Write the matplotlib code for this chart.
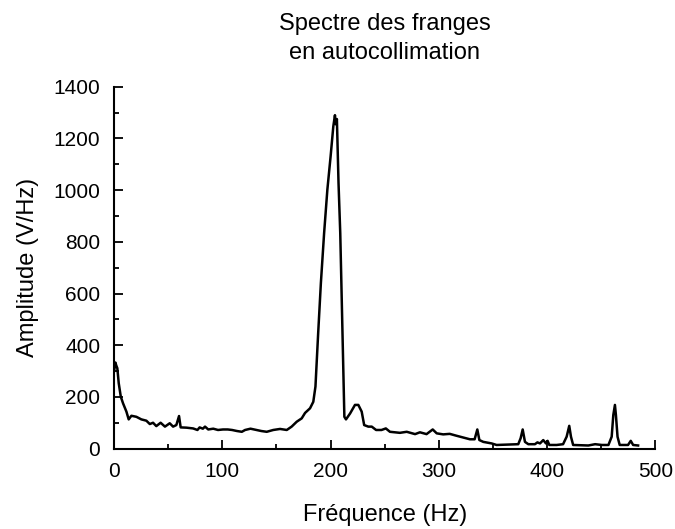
import matplotlib
matplotlib.use("Agg")
import matplotlib.pyplot as plt
from matplotlib.ticker import MultipleLocator

plt.rcParams['font.family'] = ['Liberation Sans', 'DejaVu Sans']

# spectrum (Hz, V/Hz)
freq = [0, 0.6, 1.2, 2, 3, 4.3, 6.2, 8.3, 11.4, 13.5, 16, 20.6, 25.2, 29.8, 33, 36,
        39, 43, 47, 51.4, 54.5, 57.5, 60, 61.5, 66.8, 73, 77, 79, 82, 84, 87, 91.6,
        96, 100.6, 105, 109, 113.5, 118, 121, 126, 131.8, 136, 141, 147, 153.3,
        159.5, 164, 168.7, 173.3, 176.4, 181, 184, 186, 188.5, 191, 194,
        197, 200, 202.5, 204, 204.8, 205.8, 207.3, 208.9, 210.3, 211.7,
        212.7, 214.2, 218, 222.5, 225.6, 228.7, 231, 234.8, 238, 242, 247, 251,
        254.8, 264, 270.3, 278, 282.5, 288.6, 294.3, 298, 304, 310, 316, 322.5,
        328.7, 333, 335.5, 337.4, 341, 348.7, 353.3, 373.3, 375.5, 377.4, 379.5,
        382.6, 388.7, 391, 393.4, 396.4, 398.9, 400.4, 402, 408.7, 414.7, 418,
        420.4, 422, 424, 438, 444.3, 450.5, 456.6, 459.6, 461.1, 462.6, 463.5,
        465, 467, 474.7, 477.2, 479.4, 484]
amp = [300, 315, 333, 322, 311, 253, 201, 175, 143, 113, 127, 123, 113, 108, 95, 100,
       87, 100, 85, 98, 85, 91, 126, 82, 81, 78, 72, 82, 77, 85, 74, 77,
       72, 74, 74, 72, 68, 65, 72, 77, 72, 68, 65, 72, 76,
       72, 85, 104, 117, 138, 156, 181, 240, 446, 640, 834,
       1002, 1131, 1247, 1290, 1255, 1275, 1028, 834, 576, 317,
       123, 113, 136, 169, 169, 143, 91, 85, 85, 72, 72, 78,
       65, 61, 65, 56, 63, 56, 74, 59, 55, 57, 50, 43,
       36, 36, 74, 33, 26, 20, 14, 17, 40, 74, 26,
       17, 17, 24, 20, 33, 20, 30, 14, 14, 17, 46,
       88, 46, 14, 12, 17, 14, 14, 46, 130, 169, 130,
       46, 14, 14, 30, 14, 12]

fig = plt.figure(figsize=(6.75, 5.29), dpi=100)
ax = fig.add_axes([0.169, 0.152, 0.802, 0.684])

ax.plot(freq, amp, color='black', linewidth=1.8)

ax.set_xlim(0, 500)
ax.set_ylim(0, 1400)
ax.xaxis.set_major_locator(MultipleLocator(100))
ax.xaxis.set_minor_locator(MultipleLocator(50))
ax.yaxis.set_major_locator(MultipleLocator(200))
ax.yaxis.set_minor_locator(MultipleLocator(100))

for s in ['top', 'right']:
    ax.spines[s].set_visible(False)
for s in ['left', 'bottom']:
    ax.spines[s].set_linewidth(1.5)

ax.tick_params(which='both', direction='in', width=1.3, labelsize=15, pad=10)
ax.tick_params(which='major', length=6.5)
ax.tick_params(which='minor', length=3.3)

ax.set_title('Spectre des franges\nen autocollimation', fontsize=17,
             pad=20, linespacing=1.4)
ax.set_xlabel('Fréquence (Hz)', fontsize=17, labelpad=16)
ax.set_ylabel('Amplitude (V/Hz)', fontsize=17, labelpad=10)

fig.savefig('out.png', dpi=100)
